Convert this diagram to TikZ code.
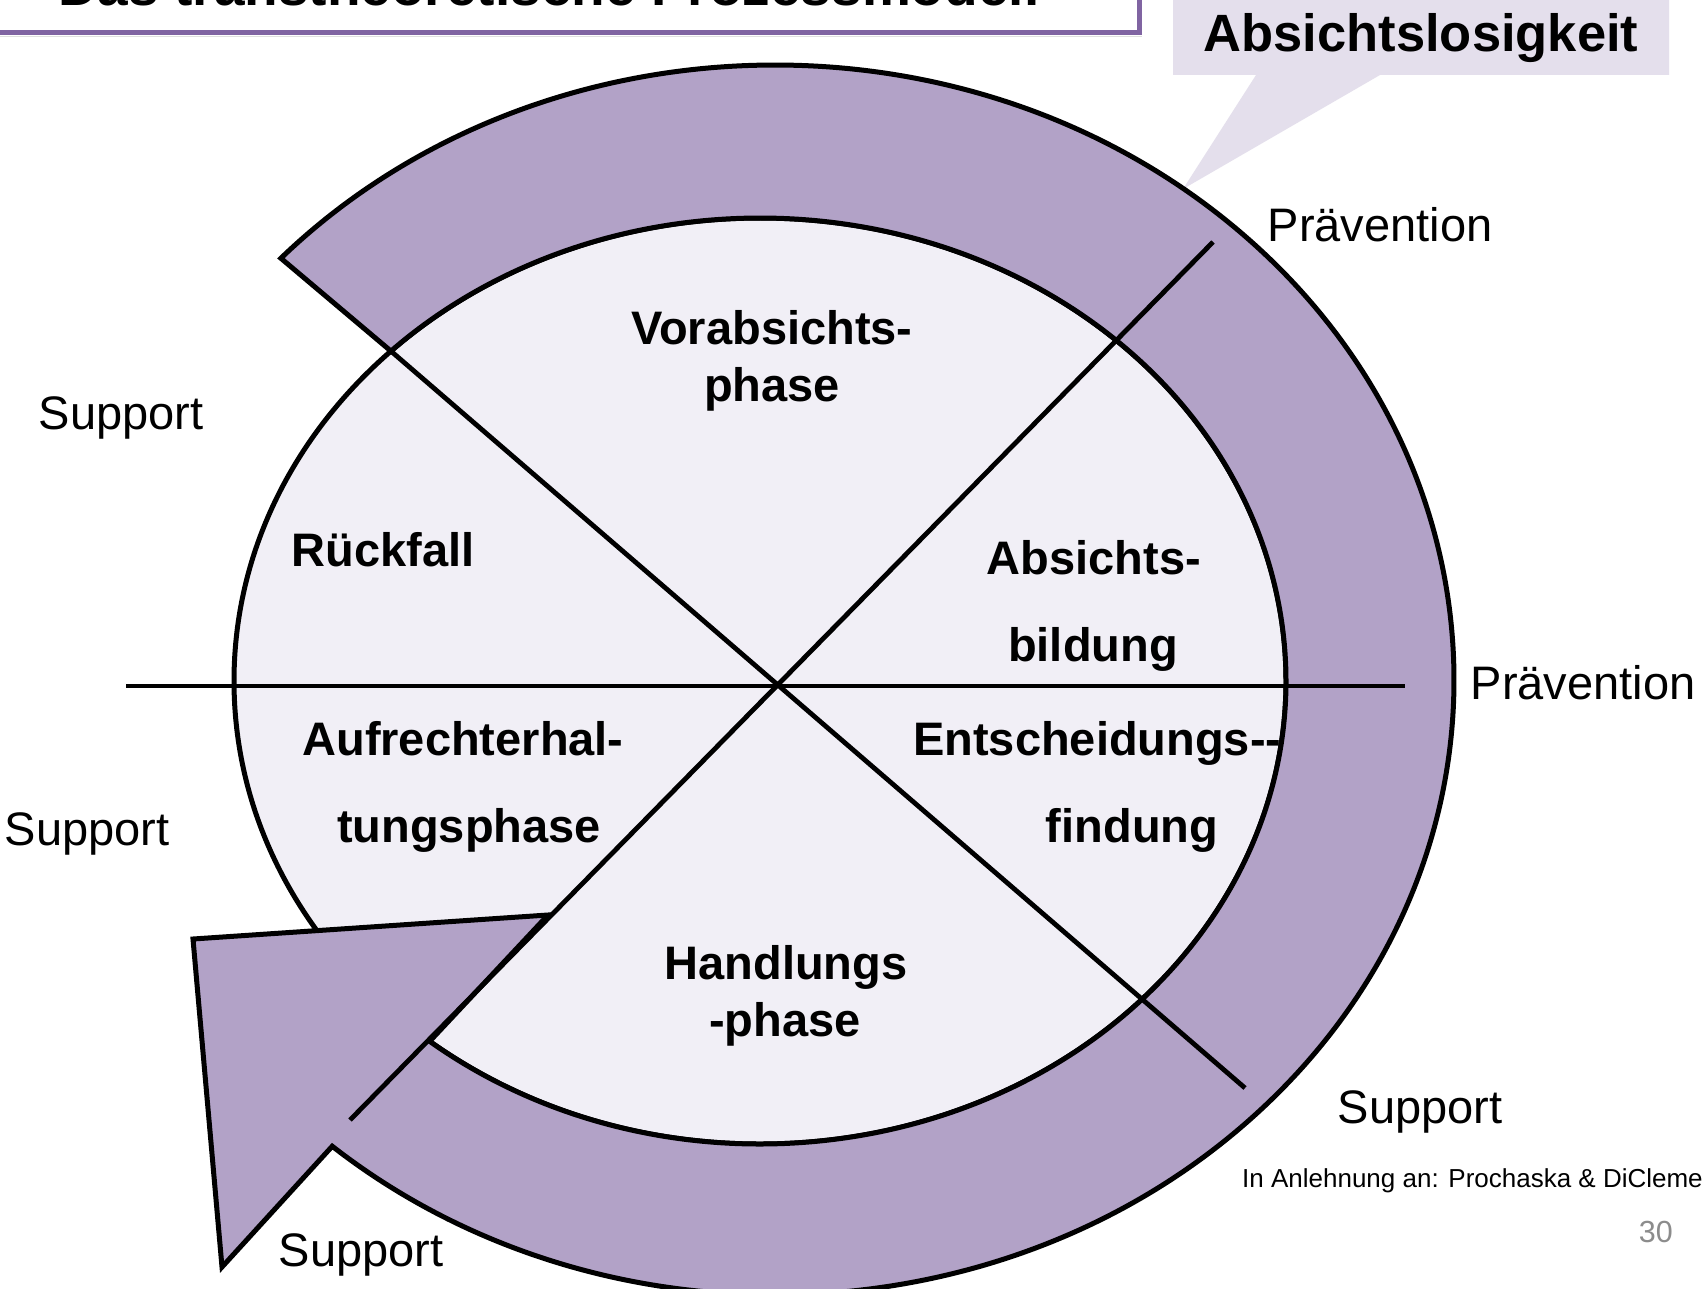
\documentclass[tikz,border=0pt]{standalone}
\usepackage{fontspec}
\setmainfont{Liberation Sans}
\usetikzlibrary{calc}
\definecolor{ringpurple}{HTML}{B2A2C7}
\definecolor{innerfill}{HTML}{F1EFF6}
\definecolor{callfill}{HTML}{E4DFEC}
\definecolor{titlepurple}{HTML}{8064A2}
\definecolor{pagegray}{HTML}{8C8C8C}
\begin{document}
\begin{tikzpicture}[x=1pt,y=-1pt,
  plain/.style={font=\fontsize{47}{56}\selectfont, anchor=base, inner sep=0pt},
  stage/.style={font=\bfseries\fontsize{47}{56}\selectfont, anchor=base, inner sep=0pt},
  divider/.style={line width=4.8pt, draw=black},
  outline/.style={line width=5pt, draw=black, line join=miter}]
\useasboundingbox (0,0) rectangle (1704,1289);
\fill[white] (0,0) rectangle (1704,1289);

% title box (cut at the top)
\node[anchor=base west, font=\bfseries\fontsize{55}{66}\selectfont, inner sep=0pt] (title) at (58,6) {Das transtheoretische Prozessmodell};
\draw[gray!25, line width=1.5pt] (0,36.5) -- (1142,36.5);
\draw[titlepurple, line width=5pt] (0,32.5) -- (1139,32.5) -- (1139,0);

% callout
\fill[callfill] (1173,0) -- (1669,0) -- (1669,75) -- (1380,75) -- (1183,189) -- (1256,75) -- (1173,75) -- cycle;
\node[font=\bfseries\fontsize{52.5}{62}\selectfont, anchor=base, inner sep=0pt] (absl) at (1421,52) {Absichtslosigkeit};

% inner ellipse fill
\fill[innerfill] (760,681) ellipse [x radius=526, y radius=463];

% stage labels
\node[stage] (vor1) at (772,344) {Vorabsichts-};
\node[stage] (vor2) at (772,401) {phase};
\node[stage] (rueck) at (383,566) {Rückfall};
\node[stage] (abs1) at (1094,574) {Absichts-};
\node[stage] (abs2) at (1093,661) {bildung};
\node[stage] (auf1) at (463,755) {Aufrechterhal-};
\node[stage] (auf2) at (469,842) {tungsphase};
\node[stage, anchor=base west] (ent1) at (913,755) {Entscheidungs-{}-};
\node[stage] (ent2) at (1132,842) {findung};
\node[stage] (hand1) at (786,979) {Handlungs};
\node[stage] (hand2) at (785,1036) {-phase};

% inner ellipse outline
\draw[outline] (760,681) ellipse [x radius=526, y radius=463];

% circular arrow ring
\coordinate (tip) at (222,1267);
\coordinate (ul) at (193,939);
\coordinate (ur) at (548,915);
\path[outline, fill=ringpurple]
  ($(775,680)+(-136.7:679 and 615)$)
  arc[start angle=-136.7, end angle=130.7, x radius=679, y radius=615]
  -- (tip) -- (ul) -- (ur)
  -- ($(760,681)+(128.9:526 and 463)$)
  arc[start angle=128.9, end angle=-134.56, x radius=526, y radius=463]
  -- cycle;

% dividing lines
\coordinate (hL) at (126,686);
\coordinate (hR) at (1405,686);
\coordinate (dA) at ($(760,681)+(-134.56:526 and 463)$);
\coordinate (dB) at (1245,1088);
\coordinate (eA) at (1213,242);
\coordinate (eB) at (350,1120);
\draw[divider] (hL) -- (hR);
\draw[divider] (dA) -- (dB);
\draw[divider] (eA) -- (eB);

% outer labels
\node[plain] (sup1) at (121,429) {Support};
\node[plain] (sup2) at (87,845) {Support};
\node[plain] (sup3) at (361,1266) {Support};
\node[plain] (sup4) at (1420,1123) {Support};
\node[plain] (prae1) at (1380,242) {Prävention};
\node[plain] (prae2) at (1583,699) {Prävention};

% footer
\node[font=\fontsize{26}{31}\selectfont, anchor=base west, inner sep=0pt] (cite) at (1242,1187) {In Anlehnung an: Prochaska \& DiCleme};
\node[font=\fontsize{30.5}{36}\selectfont, anchor=base east, inner sep=0pt, text=pagegray] (page) at (1673,1242) {30};
\end{tikzpicture}
\end{document}
